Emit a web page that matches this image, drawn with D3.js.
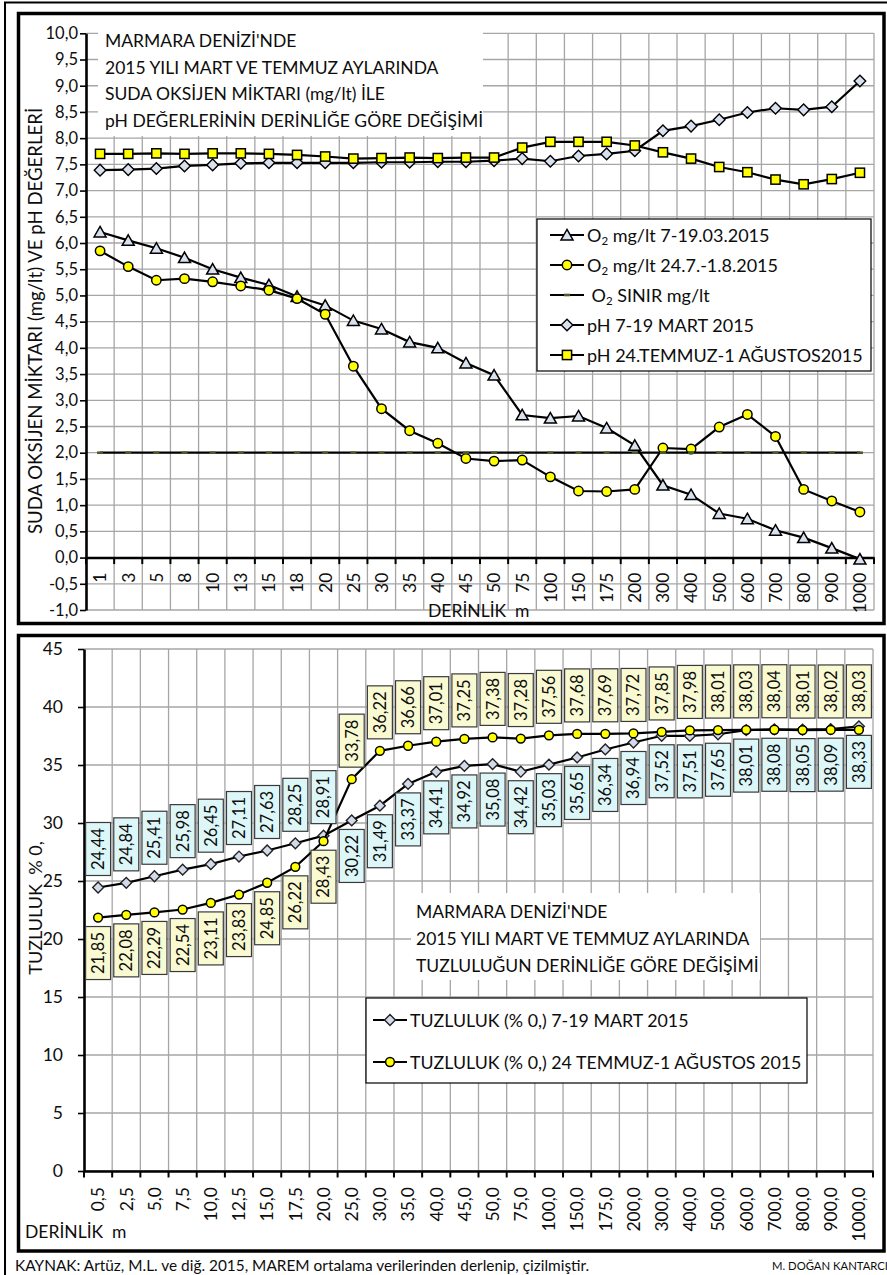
<!DOCTYPE html>
<html><head><meta charset="utf-8">
<script src="https://cdn.jsdelivr.net/npm/d3@7"></script>
<style>body{margin:0;background:#fff;} svg{display:block;font-family:Lato, "Open Sans", sans-serif;}</style>
</head><body><svg id="c" width="887" height="1275"></svg>
<script>
// ---------- DATA ----------
const depthTop = ["1","3","5","8","10","13","15","18","20","25","30","35","40","45","50","75","100","150","175","200","300","400","500","600","700","800","900","1000"];
const depthBottom = ["0,5","2,5","5,0","7,5","10,0","12,5","15,0","17,5","20,0","25,0","30,0","35,0","40,0","45,0","50,0","75,0","100,0","150,0","175,0","200,0","300,0","400,0","500,0","600,0","700,0","800,0","900,0","1000,0"];
const o2March = [6.21,6.05,5.90,5.72,5.50,5.34,5.20,4.98,4.81,4.52,4.36,4.11,4.00,3.71,3.48,2.72,2.66,2.70,2.47,2.14,1.38,1.20,0.84,0.74,0.52,0.38,0.18,-0.03];
const o2July = [5.85,5.55,5.29,5.32,5.26,5.18,5.10,4.94,4.64,3.65,2.84,2.42,2.18,1.89,1.84,1.86,1.54,1.27,1.26,1.30,2.09,2.07,2.49,2.73,2.31,1.30,1.08,0.87];
const o2Limit = [2,2,2,2,2,2,2,2,2,2,2,2,2,2,2,2,2,2,2,2,2,2,2,2,2,2,2,2];
const phMarch = [7.39,7.40,7.42,7.47,7.49,7.52,7.53,7.53,7.53,7.53,7.54,7.54,7.55,7.55,7.57,7.61,7.56,7.66,7.70,7.76,8.14,8.23,8.35,8.49,8.57,8.54,8.60,9.09];
const phJuly = [7.70,7.70,7.71,7.70,7.71,7.71,7.70,7.68,7.65,7.61,7.62,7.63,7.62,7.63,7.63,7.82,7.93,7.93,7.93,7.86,7.73,7.61,7.45,7.35,7.21,7.12,7.22,7.34];
const salMarch = [24.44,24.84,25.41,25.98,26.45,27.11,27.63,28.25,28.91,30.22,31.49,33.37,34.41,34.92,35.08,34.42,35.03,35.65,36.34,36.94,37.52,37.51,37.65,38.01,38.08,38.05,38.09,38.33];
const salJuly = [21.85,22.08,22.29,22.54,23.11,23.83,24.85,26.22,28.43,33.78,36.22,36.66,37.01,37.25,37.38,37.28,37.56,37.68,37.69,37.72,37.85,37.98,38.01,38.03,38.04,38.01,38.02,38.03];
const yTicksTop = d3.range(-2, 21).map(d => d / 2);
const yTicksBottom = [0,5,10,15,20,25,30,35,40,45];
const titleTop = ["MARMARA DENİZİ'NDE","2015 YILI MART VE TEMMUZ AYLARINDA","SUDA OKSİJEN MİKTARI (mg/lt) İLE","pH DEĞERLERİNİN DERİNLİĞE GÖRE DEĞİŞİMİ"];
const titleBottom = ["MARMARA DENİZİ'NDE","2015 YILI MART VE TEMMUZ AYLARINDA","TUZLULUĞUN DERİNLİĞE GÖRE DEĞİŞİMİ"];
const legendTop = [
  {sub:true, pre:"O", rest:" mg/lt 7-19.03.2015", marker:"tri"},
  {sub:true, pre:"O", rest:" mg/lt 24.7.-1.8.2015", marker:"circle"},
  {sub:true, pre:"\u00a0O", rest:" SINIR mg/lt", marker:"dash"},
  {sub:false, pre:"pH 7-19 MART 2015", rest:"", marker:"diamond"},
  {sub:false, pre:"pH 24.TEMMUZ-1 AĞUSTOS2015", rest:"", marker:"square"}
];
const legendBottom = [
  {text:"TUZLULUK (% 0,) 7-19 MART 2015", marker:"diamondS"},
  {text:"TUZLULUK (% 0,) 24 TEMMUZ-1 AĞUSTOS 2015", marker:"circleS"}
];

// ---------- STYLE ----------
const GRID = "#a6a6a6";
const BLUEF = "#d9e1ee";
const YEL = "#ffff00";
const CYANBOX = "#ddf7f8";
const YELBOX = "#fafad2";
const TXT = "#0d0d0d";

const svg = d3.select("#c");

// frames
svg.append("rect").attr("x",5).attr("y",2.5).attr("width",900).attr("height",1300)
  .attr("fill","none").attr("stroke","#000").attr("stroke-width",2);
svg.append("rect").attr("x",18.5).attr("y",13.5).attr("width",865.5).attr("height",610)
  .attr("fill","#fff").attr("stroke","#000").attr("stroke-width",3.5);
svg.append("rect").attr("x",18.5).attr("y",635.5).attr("width",865.5).attr("height",615.5)
  .attr("fill","#fff").attr("stroke","#000").attr("stroke-width",3.5);

function marker(g, type, x, y) {
  if (type === "tri") {
    g.append("path").attr("d", "M0,-5.6L6,4.9L-6,4.9Z").attr("transform",`translate(${x},${y})`)
      .attr("fill",BLUEF).attr("stroke","#000").attr("stroke-width",1.5).attr("stroke-linejoin","miter");
  } else if (type === "circle") {
    g.append("circle").attr("cx",x).attr("cy",y).attr("r",4.7).attr("fill",YEL).attr("stroke","#000").attr("stroke-width",1.5);
  } else if (type === "circleS") {
    g.append("circle").attr("cx",x).attr("cy",y).attr("r",4.4).attr("fill",YEL).attr("stroke","#000").attr("stroke-width",1.5);
  } else if (type === "diamond") {
    g.append("path").attr("d","M0,-5.8L5.8,0L0,5.8L-5.8,0Z").attr("transform",`translate(${x},${y})`)
      .attr("fill",BLUEF).attr("stroke","#000").attr("stroke-width",1.4);
  } else if (type === "diamondS") {
    g.append("path").attr("d","M0,-5.4L5.4,0L0,5.4L-5.4,0Z").attr("transform",`translate(${x},${y})`)
      .attr("fill","#d3daea").attr("stroke","#222").attr("stroke-width",1.4);
  } else if (type === "square") {
    g.append("rect").attr("x",x-4.6).attr("y",y-4.6).attr("width",9.2).attr("height",9.2)
      .attr("fill",YEL).attr("stroke","#000").attr("stroke-width",1.5);
  } else if (type === "dash") {
    g.append("rect").attr("x",x-3).attr("y",y-1.3).attr("width",6).attr("height",2.6).attr("fill","#4a5a2a");
  }
}

// ================= TOP CHART =================
{
  const x = d3.scaleBand().domain(depthTop).range([86, 874]);
  const y = d3.scaleLinear().domain([-1, 10]).range([610, 33.3]);
  const bw = x.bandwidth();
  const cx = d => x(d) + bw / 2;
  const g = svg.append("g");

  // grid
  g.append("g").selectAll("line").data(yTicksTop).join("line")
    .attr("x1",86).attr("x2",874).attr("y1",d=>y(d)).attr("y2",d=>y(d))
    .attr("stroke",GRID).attr("stroke-width",1.3);
  g.append("g").selectAll("line").data(depthTop).join("line")
    .attr("x1",d=>x(d)+bw).attr("x2",d=>x(d)+bw).attr("y1",y(10)).attr("y2",y(-1))
    .attr("stroke",GRID).attr("stroke-width",1.3);

  // title box
  g.append("rect").attr("x",98).attr("y",26).attr("width",385).attr("height",110).attr("fill","#fff");
  g.append("g").selectAll("text").data(titleTop).join("text")
    .attr("x",105).attr("y",(d,i)=>47 + i*26.7).attr("font-size",17.5).attr("fill",TXT).text(d=>d);

  // y axis
  const ya = g.append("g").attr("transform","translate(86,0)")
    .call(d3.axisLeft(y).tickValues(yTicksTop).tickSize(6).tickSizeOuter(0)
      .tickFormat(d => d3.format(".1f")(d).replace("−","-").replace(".",",")));
  ya.select(".domain").attr("stroke","#000").attr("stroke-width",2.6);
  ya.selectAll(".tick line").attr("stroke","#000").attr("stroke-width",1.6);
  ya.selectAll(".tick text").attr("font-size",16.5).attr("font-family","Lato").attr("fill",TXT).attr("x",-8);

  // x axis at 0
  const xa = g.append("g").attr("transform",`translate(0,${y(0)})`)
    .call(d3.axisBottom(x).tickSize(0).tickSizeOuter(0));
  xa.select(".domain").attr("stroke","#000").attr("stroke-width",2.6);
  xa.selectAll(".tick text").attr("font-size",17.5).attr("font-family","Lato").attr("fill",TXT)
    .attr("transform","rotate(-90)").attr("x",-15).attr("y",0).attr("dy","0.36em").attr("text-anchor","end");
  g.append("g").selectAll("line").data([null].concat(depthTop)).join("line")
    .attr("x1",(d,i)=>86+i*bw).attr("x2",(d,i)=>86+i*bw).attr("y1",y(0)).attr("y2",y(0)+6.5)
    .attr("stroke","#000").attr("stroke-width",2);

  g.append("text").attr("x",428).attr("y",617).attr("font-size",17.5).attr("fill",TXT).text("DERİNLİK\u00a0 m");

  // y title
  g.append("text").attr("transform",`translate(42,321) rotate(-90)`).attr("text-anchor","middle")
    .attr("font-size",18.6).attr("fill",TXT).text("SUDA OKSİJEN MİKTARI (mg/lt) VE pH DEĞERLERİ");

  // series
  const line = d3.line().x((d,i)=>cx(depthTop[i])).y(d=>y(d));
  const series = [
    {v:o2March, m:"tri"},
    {v:o2July, m:"circle"},
    {v:o2Limit, m:"dash"},
    {v:phMarch, m:"diamond"},
    {v:phJuly, m:"square"}
  ];
  series.forEach(s => {
    g.append("path").attr("d", line(s.v)).attr("fill","none").attr("stroke","#000").attr("stroke-width",2.2);
    const mg = g.append("g");
    s.v.forEach((v,i) => marker(mg, s.m, cx(depthTop[i]), y(v)));
  });

  // legend
  const lg = g.append("g");
  lg.append("rect").attr("x",537).attr("y",219).attr("width",334).attr("height",152)
    .attr("fill","#fff").attr("stroke","#000").attr("stroke-width",1.2);
  legendTop.forEach((d,i) => {
    const yy = 235 + i*30;
    lg.append("line").attr("x1",550).attr("x2",584).attr("y1",yy).attr("y2",yy).attr("stroke","#000").attr("stroke-width",2.2);
    marker(lg, d.marker, 567, yy);
    const t = lg.append("text").attr("x",587).attr("y",yy+6.5).attr("font-size",18).attr("fill",TXT);
    t.append("tspan").text(d.pre);
    if (d.sub) {
      t.append("tspan").attr("font-size",11.5).attr("dy",3).text("2");
      t.append("tspan").attr("dy",-3).text(d.rest);
    }
  });
}

// ================= BOTTOM CHART =================
{
  const x = d3.scaleBand().domain(depthBottom).range([84, 873]);
  const y = d3.scaleLinear().domain([0, 45]).range([1171, 649]);
  const bw = x.bandwidth();
  const cx = d => x(d) + bw / 2;
  const g = svg.append("g");

  g.append("g").selectAll("line").data(yTicksBottom).join("line")
    .attr("x1",84).attr("x2",873).attr("y1",d=>y(d)).attr("y2",d=>y(d))
    .attr("stroke",GRID).attr("stroke-width",1.3);
  g.append("g").selectAll("line").data(depthBottom).join("line")
    .attr("x1",d=>x(d)+bw).attr("x2",d=>x(d)+bw).attr("y1",y(45)).attr("y2",y(0))
    .attr("stroke",GRID).attr("stroke-width",1.3);

  // title box
  g.append("rect").attr("x",411).attr("y",893).attr("width",349).attr("height",87).attr("fill","#fff");
  g.append("g").selectAll("text").data(titleBottom).join("text")
    .attr("x",416).attr("y",(d,i)=>918 + i*27).attr("font-size",17.5).attr("fill",TXT).text(d=>d);

  const ya = g.append("g").attr("transform","translate(84,0)")
    .call(d3.axisLeft(y).tickValues(yTicksBottom).tickSize(6).tickSizeOuter(0).tickFormat(d3.format("d")));
  ya.select(".domain").attr("stroke","#000").attr("stroke-width",2.6);
  ya.selectAll(".tick line").attr("stroke","#000").attr("stroke-width",1.6);
  ya.selectAll(".tick text").attr("font-size",17.5).attr("font-family","Lato").attr("fill",TXT).attr("x",-21);

  const xa = g.append("g").attr("transform",`translate(0,${y(0)})`)
    .call(d3.axisBottom(x).tickSize(0).tickSizeOuter(0));
  xa.select(".domain").attr("stroke","#000").attr("stroke-width",2.6);
  xa.selectAll(".tick text").attr("font-size",17.5).attr("font-family","Lato").attr("fill",TXT)
    .attr("transform","rotate(-90)").attr("x",-16).attr("y",0).attr("dy","0.36em").attr("text-anchor","end");
  g.append("g").selectAll("line").data([null].concat(depthBottom)).join("line")
    .attr("x1",(d,i)=>84+i*bw).attr("x2",(d,i)=>84+i*bw).attr("y1",y(0)).attr("y2",y(0)+6.5)
    .attr("stroke","#000").attr("stroke-width",2);

  g.append("text").attr("x",25).attr("y",1238).attr("font-size",17.5).attr("fill",TXT).text("DERİNLİK\u00a0 m");
  g.append("text").attr("transform",`translate(42,908) rotate(-90)`).attr("text-anchor","middle")
    .attr("font-size",18).attr("fill",TXT).text("TUZLULUK\u00a0 % 0,");

  const line = d3.line().x((d,i)=>cx(depthBottom[i])).y(d=>y(d));
  const ser = [{v:salMarch, m:"diamondS"},{v:salJuly, m:"circleS"}];
  ser.forEach(s => {
    g.append("path").attr("d", line(s.v)).attr("fill","none").attr("stroke","#000").attr("stroke-width",2.2);
    const mg = g.append("g");
    s.v.forEach((v,i) => marker(mg, s.m, cx(depthBottom[i]), y(v)));
  });

  // data labels
  const BW = 25, BH = 53;
  function label(v, i, above, fill) {
    const px = cx(depthBottom[i]), py = y(v);
    const top = above ? py - 12 - BH : py + 9;
    const lg = g.append("g");
    lg.append("rect").attr("x",px-BW/2).attr("y",top).attr("width",BW).attr("height",BH)
      .attr("fill",fill).attr("stroke","#3a3a3a").attr("stroke-width",1.2);
    lg.append("text").attr("transform",`translate(${px},${top+BH/2}) rotate(-90)`)
      .attr("text-anchor","middle").attr("dy","0.36em").attr("font-size",16.5).attr("fill",TXT)
      .text(d3.format(".2f")(v).replace(".",","));
  }
  salMarch.forEach((v,i) => label(v, i, i < 9, CYANBOX));
  salJuly.forEach((v,i) => label(v, i, i >= 9, YELBOX));

  // legend
  const lg = g.append("g");
  lg.append("rect").attr("x",366).attr("y",998).attr("width",441).attr("height",85)
    .attr("fill","#fff").attr("stroke","#000").attr("stroke-width",1.2);
  legendBottom.forEach((d,i) => {
    const yy = 1020 + i*42;
    lg.append("line").attr("x1",373).attr("x2",407).attr("y1",yy).attr("y2",yy).attr("stroke","#000").attr("stroke-width",2.2);
    marker(lg, d.marker, 390, yy);
    lg.append("text").attr("x",410).attr("y",yy+6.5).attr("font-size",17.8).attr("fill",TXT).text(d.text);
  });
}

// captions
svg.append("text").attr("x",15).attr("y",1271).attr("font-size",15.4).attr("fill",TXT)
  .text("KAYNAK: Artüz, M.L. ve diğ. 2015, MAREM ortalama verilerinden derlenip, çizilmiştir.");
svg.append("text").attr("x",772).attr("y",1270).attr("font-size",11.3).attr("fill",TXT)
  .text("M. DOĞAN KANTARCI");
</script></body></html>
